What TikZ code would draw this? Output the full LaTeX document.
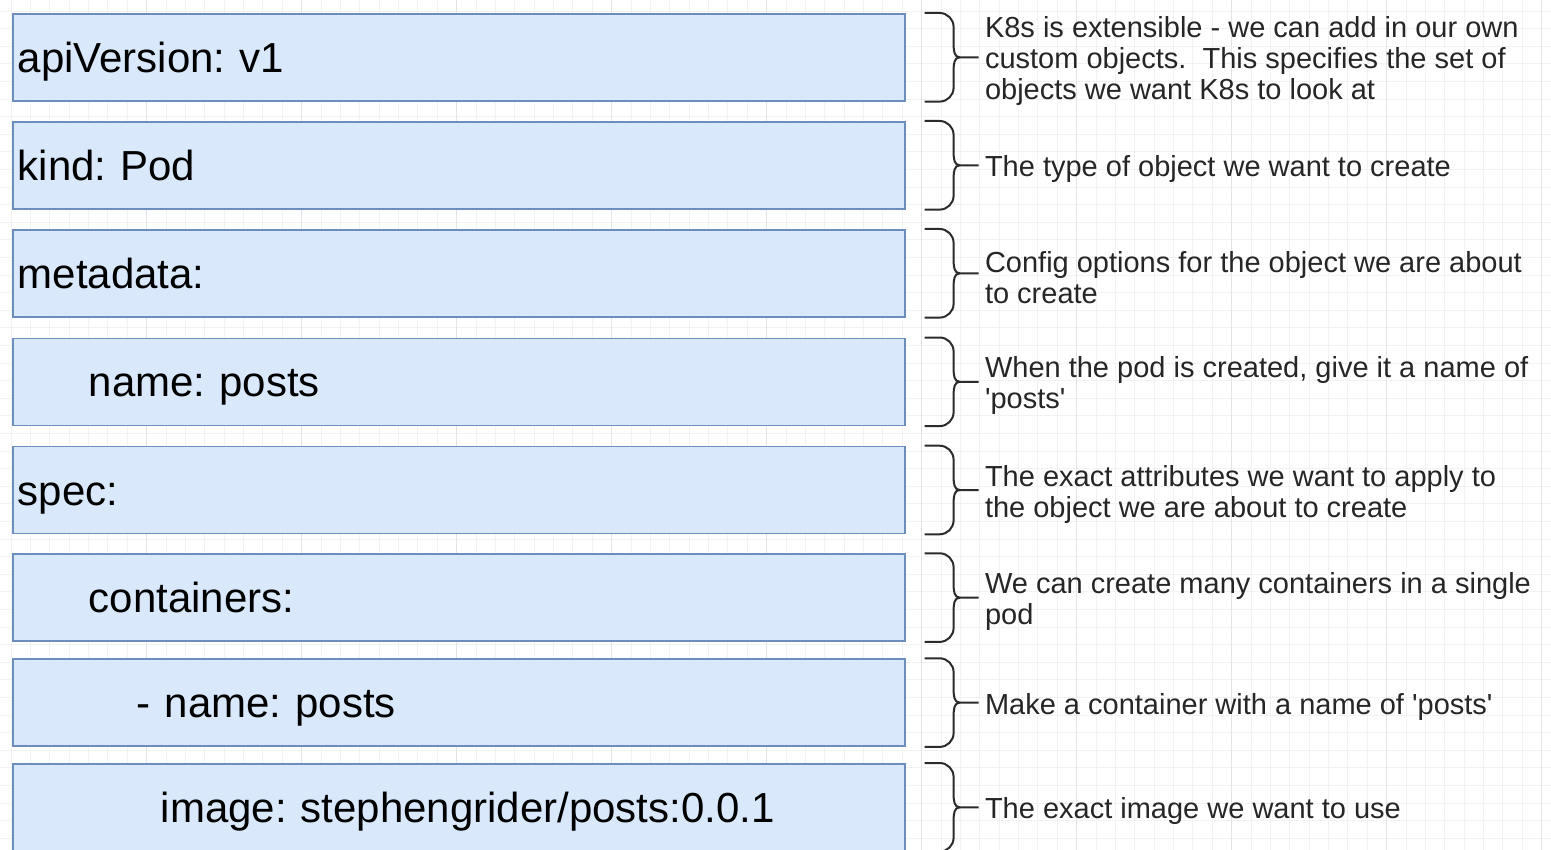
\documentclass[tikz,border=0pt]{standalone}
\usepackage{fontspec}
\setmainfont{Liberation Sans}
\usepackage{tikz}
\usetikzlibrary{calc}
\usetikzlibrary{positioning}
\definecolor{boxfill}{HTML}{DAE8FC}
\definecolor{boxline}{HTML}{6C8EBF}
\definecolor{bracecol}{HTML}{2B2B2B}
\definecolor{gridminor}{HTML}{F2F2F2}
\definecolor{gridmajor}{HTML}{E4E4E4}
\frenchspacing
\tikzset{
    yamlbox/.style={
        draw=boxline,
        fill=boxfill,
        line width=0.8pt,
        anchor=north west,
        minimum height=43.5pt,
        text width=441pt,
        inner xsep=2.5pt,
        text height=15pt,
        text depth=0pt,
        align=left,
        font=\fontsize{21}{25}\selectfont
    },
    % text beside each brace
    notetext/.style={
        anchor=west,
        inner sep=0pt,
        align=left,
        yshift=-2pt,
        text=black!85,
        font=\fontsize{14.5}{15.5}\selectfont
    },
    bracket/.style={
        line width=1pt,
        bracecol
    },
    gridline/.style={line width=0.5pt,gridminor},
    gridbold/.style={line width=0.6pt,gridmajor}
}

\begin{document}
\begin{tikzpicture}[x=0.5pt,y=-0.5pt]
    \useasboundingbox (0,0) rectangle (1551,850);
    \fill[white] (0,0) rectangle (1551,850);
    % canvas grid
    \foreach \gx in {-8.3,11.075,...,1560}
        \draw[gridline] (\gx,0) -- (\gx,850);
    \foreach \gy in {11.1,28.7,...,860}
        \draw[gridline] (0,\gy) -- (1551,\gy);
    \foreach \gx in {146.7,301.7,...,1560}
        \draw[gridbold] (\gx,0) -- (\gx,850);

    \node[yamlbox] (k1) at (12,13) {apiVersion: v1};
    \node[yamlbox] (k2) at (12,121) {kind: Pod};
    \node[yamlbox] (k3) at (12,229) {metadata:};
    \node[yamlbox] (k4) at (12,337.5) {\hspace*{35.5pt}name: posts};
    \node[yamlbox] (k5) at (12,445.7) {spec:};
    \node[yamlbox] (k6) at (12,553.3) {\hspace*{35.5pt}containers:};
    \node[yamlbox] (k7) at (12,658.3) {\hspace*{59.5pt}- name: posts};
    \node[yamlbox] (k8) at (12,763) {\hspace*{71.5pt}image: stephengrider/posts:0.0.1};

    \foreach \i in {1,...,8}{
        \draw[bracket] ($(k\i.north east)+(19,0)$) -- ++(15,0) to[out=0,in=90] ++(14,14)
            -- ($(k\i.east)+(48,-12)$) to[out=-90,in=180] ++(6,12) -- ++(19,0);
        \draw[bracket] ($(k\i.east)+(54,0)$) to[out=180,in=90] ++(-6,12)
            -- ($(k\i.south east)+(48,-14)$) to[out=-90,in=0] ++(-14,14) -- ++(-15,0);
    }

    \node[notetext, right=39.5pt of k1] (n1) {K8s is extensible - we can add in our own\\custom objects.\ \ This specifies the set of\\objects we want K8s to look at};
    \node[notetext, right=39.5pt of k2] (n2) {The type of object we want to create};
    \node[notetext, right=39.5pt of k3] (n3) {Config options for the object we are about\\to create};
    \node[notetext, right=39.5pt of k4] (n4) {When the pod is created, give it a name of\\\textquotesingle posts\textquotesingle};
    \node[notetext, right=39.5pt of k5] (n5) {The exact attributes we want to apply to\\the object we are about to create};
    \node[notetext, right=39.5pt of k6] (n6) {We can create many containers in a single\\pod};
    \node[notetext, right=39.5pt of k7] (n7) {Make a container with a name of \textquotesingle posts\textquotesingle};
    \node[notetext, right=39.5pt of k8] (n8) {The exact image we want to use};
\end{tikzpicture}
\end{document}
